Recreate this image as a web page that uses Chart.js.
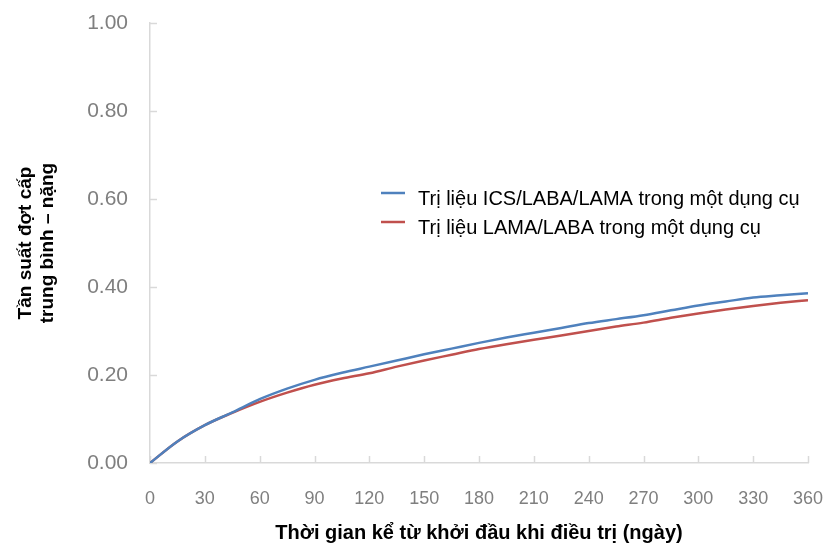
<!DOCTYPE html>
<html>
<head>
<meta charset="utf-8">
<script src="https://cdn.jsdelivr.net/npm/chart.js@4/dist/chart.umd.min.js"></script>
<style>
  html, body { margin: 0; padding: 0; background: #ffffff; }
  #wrap { width: 827px; height: 545px; position: relative; }
</style>
</head>
<body>
<div id="wrap"><canvas id="c" width="827" height="545"></canvas></div>
<script>
// ---- data ----
const days = [0, 15, 30, 45, 60, 75, 90, 105, 120, 135, 150, 165, 180, 195, 210, 225, 240, 255, 270, 285, 300, 315, 330, 345, 360];
const icsLabaLama = [0, 0.049, 0.086, 0.115, 0.145, 0.169, 0.189, 0.205, 0.219, 0.233, 0.247, 0.260, 0.273, 0.285, 0.296, 0.307, 0.318, 0.327, 0.336, 0.347, 0.358, 0.367, 0.376, 0.381, 0.386];
const lamaLaba   = [0, 0.049, 0.086, 0.114, 0.139, 0.160, 0.178, 0.192, 0.204, 0.219, 0.233, 0.246, 0.259, 0.270, 0.280, 0.290, 0.300, 0.310, 0.319, 0.330, 0.340, 0.349, 0.357, 0.364, 0.370];
const seriesLabels = ['Trị liệu ICS/LABA/LAMA trong một dụng cụ', 'Trị liệu LAMA/LABA trong một dụng cụ'];
const xTitle = 'Thời gian kể từ khởi đầu khi điều trị (ngày)';
const yTitle = ['Tần suất đợt cấp', 'trung bình – nặng'];

const toPts = (vals) => days.map((d, i) => ({ x: d, y: vals[i] }));

const AXIS = '#d9d9d9';
const TICKCOL = '#7f7f7f';
const FONT = "'Liberation Sans', Arial, sans-serif";

const inTicks = {
  id: 'inTicks',
  beforeDatasetsDraw(chart) {
    const { ctx, scales: { x, y } } = chart;
    ctx.save();
    ctx.strokeStyle = AXIS;
    ctx.lineWidth = 1.5;
    x.ticks.forEach(t => {
      const px = Math.round(x.getPixelForValue(t.value)) + 0.5;
      ctx.beginPath(); ctx.moveTo(px, y.bottom); ctx.lineTo(px, y.bottom - 7); ctx.stroke();
    });
    y.ticks.forEach(t => {
      const py = Math.round(y.getPixelForValue(t.value)) + 0.5;
      ctx.beginPath(); ctx.moveTo(x.left, py); ctx.lineTo(x.left + 7, py); ctx.stroke();
    });
    ctx.restore();
  }
};

const customLegend = {
  id: 'customLegend',
  afterDraw(chart) {
    const { ctx } = chart;
    ctx.save();
    ctx.font = "20px " + FONT;
    ctx.textBaseline = 'middle';
    chart.data.datasets.forEach((ds, i) => {
      const yy = 193 + i * 29;
      ctx.strokeStyle = ds.borderColor;
      ctx.lineWidth = 2.5;
      ctx.beginPath(); ctx.moveTo(381, yy); ctx.lineTo(405, yy); ctx.stroke();
      ctx.fillStyle = '#000000';
      ctx.fillText(ds.label, 418, yy + 6);
    });
    ctx.restore();
  }
};

new Chart(document.getElementById('c'), {
  type: 'line',
  data: {
    datasets: [
      { label: seriesLabels[0], data: toPts(icsLabaLama), borderColor: '#4f81bd', borderWidth: 2.5, pointRadius: 0, cubicInterpolationMode: 'monotone', fill: false },
      { label: seriesLabels[1], data: toPts(lamaLaba), borderColor: '#c0504d', borderWidth: 2.5, pointRadius: 0, cubicInterpolationMode: 'monotone', fill: false }
    ]
  },
  options: {
    responsive: false,
    animation: false,
    layout: { padding: { top: 23, right: 19, left: 0, bottom: 0 } },
    plugins: { legend: { display: false }, tooltip: { enabled: false } },
    scales: {
      x: {
        type: 'linear', min: 0, max: 360,
        ticks: { stepSize: 30, color: TICKCOL, font: { size: 18, family: FONT }, padding: 25, maxRotation: 0 },
        grid: { display: true, drawOnChartArea: false, drawTicks: false, color: AXIS },
        border: { color: AXIS, width: 1.5 },
        title: { display: true, text: xTitle, color: '#000000', font: { size: 20, weight: 'bold', family: FONT }, padding: { top: 13, bottom: 0 } },
        afterFit(s) { s.height = 82; s.paddingLeft = 0; s.paddingRight = 0; }
      },
      y: {
        type: 'linear', min: 0, max: 1,
        ticks: { stepSize: 0.2, color: TICKCOL, font: { size: 21, family: FONT }, padding: 22, callback: v => Number(v).toFixed(2) },
        grid: { display: true, drawOnChartArea: false, drawTicks: false, color: AXIS },
        border: { color: AXIS, width: 1.5 },
        title: { display: true, text: yTitle, color: '#000000', font: { size: 19, weight: 'bold', family: FONT, lineHeight: 1.2 }, padding: { top: 14, bottom: 0 } },
        afterFit(s) { s.width = 150; s.paddingTop = 0; s.paddingBottom = 0; }
      }
    }
  },
  plugins: [inTicks, customLegend]
});
</script>
</body>
</html>
